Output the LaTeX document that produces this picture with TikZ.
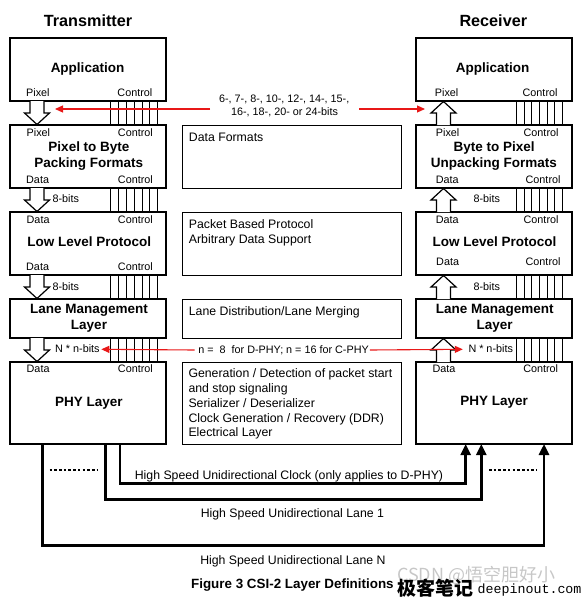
\documentclass[tikz,border=0pt]{standalone}
\usepackage{fontspec}
\setmainfont{Liberation Sans}
\newfontfamily\cjkfont{Noto Sans CJK SC}
\newfontfamily\wmmono{Liberation Mono}
\usetikzlibrary{arrows.meta}
\definecolor{redarrow}{RGB}{232,24,24}
\newcommand\blkdown[3]{%
  \draw[line width=1.2pt,fill=white,line join=miter]
    (#1-7,#2) -- (#1-7,#3-11.5) -- (#1-12.5,#3-11.5) -- (#1,#3) -- (#1+12.5,#3-11.5) -- (#1+7,#3-11.5) -- (#1+7,#2);}
\newcommand\blkup[3]{%
  \draw[line width=1.2pt,fill=white,line join=miter]
    (#1-7,#3) -- (#1-7,#2+11.5) -- (#1-12.5,#2+11.5) -- (#1,#2) -- (#1+12.5,#2+11.5) -- (#1+7,#2+11.5) -- (#1+7,#3);}
\begin{document}
\begin{tikzpicture}[x=1pt,y=-1pt,
  box/.style={draw,line width=1.3pt,inner sep=0,minimum width=156pt},
  mbox/.style={draw,line width=1pt,inner sep=0,minimum width=219pt},
  sm/.style={font=\fontsize{10.8}{13}\selectfont,inner sep=0,text height=0.716em,text depth=0pt},
  bl/.style={font=\bfseries\fontsize{13.5}{16}\selectfont,inner sep=0,text height=0.716em,text depth=0pt},
  ds/.style={font=\fontsize{12.3}{14.8}\selectfont,inner sep=0,text height=0.716em,text depth=0pt},
  ttl/.style={font=\bfseries\fontsize{16.2}{19}\selectfont,inner sep=0,text height=0.716em,text depth=0pt},
  ctl/.style={line width=0.8pt},
  redarr/.style={draw=redarrow,line width=1.1pt,-{Triangle[length=8pt,width=7pt]}},
  bus/.style={line width=2.6pt,line join=miter,-{Triangle[length=11pt,width=10pt]}},
  dsh/.style={line width=1.3pt,dash pattern=on 2.6pt off 2.1pt}
]
\useasboundingbox (0,0) rectangle (582,597);

% titles
\node[ttl] (ttx) at (88,22.7) {Transmitter};
\node[ttl] (trx) at (493.3,22.7) {Receiver};

% transmitter boxes
\node[box,minimum height=63pt] (tapp) at (88,69.5) {};
\node[box,minimum height=63pt] (tp2b) at (88,156.5) {};
\node[box,minimum height=63pt] (tllp) at (88,243.5) {};
\node[box,minimum height=39pt] (tlml) at (88,318.5) {};
\node[box,minimum height=82pt] (tphy) at (88,403) {};
% receiver boxes
\node[box,minimum height=63pt] (rapp) at (494,69.5) {};
\node[box,minimum height=63pt] (rb2p) at (494,156.5) {};
\node[box,minimum height=63pt] (rllp) at (494,243.5) {};
\node[box,minimum height=39pt] (rlml) at (494,318.5) {};
\node[box,minimum height=82pt] (rphy) at (494,403) {};
% middle boxes
\node[mbox,minimum height=63pt] (mdf) at (291.5,156.5) {};
\node[mbox,minimum height=63pt] (mpb) at (291.5,243.5) {};
\node[mbox,minimum height=39pt] (mld) at (291.5,318.5) {};
\node[mbox,minimum height=82pt] (mph) at (291.5,403) {};

% control line bundles
\foreach \u/\l in {tapp/tp2b,tp2b/tllp,tllp/tlml,tlml/tphy}
  \foreach \i in {0,...,6}
    \draw[ctl] ([xshift=101.5pt+7.8pt*\i]\u.south west) -- ([xshift=101.5pt+7.8pt*\i]\l.north west);
\foreach \u/\l in {rapp/rb2p,rb2p/rllp,rllp/rlml,rlml/rphy}
  \foreach \i in {0,...,6}
    \draw[ctl] ([xshift=101pt+7.7pt*\i]\u.south west) -- ([xshift=101pt+7.7pt*\i]\l.north west);

% block arrows
\blkdown{37}{101}{124.5}
\blkdown{37}{188}{211.5}
\blkdown{37}{275}{298.5}
\blkdown{37}{338}{361.5}
\blkup{443.5}{101.5}{125}
\blkup{443.5}{188.5}{212}
\blkup{443.5}{275.5}{299}
\blkup{443.5}{338.5}{362}

% transmitter labels
\node[bl] (tappL) at (87.5,69.3) {Application};
\node[sm,anchor=west] (tappPx) at (26,93) {Pixel};
\node[sm,anchor=east] (tappCt) at (152.5,93) {Control};
\node[sm,anchor=west] (tp2bPx) at (26.5,133.3) {Pixel};
\node[sm,anchor=east] (tp2bCt) at (153,133.3) {Control};
\node[bl] (tp2bL1) at (89,148.3) {Pixel to Byte};
\node[bl] (tp2bL2) at (88.7,164.3) {Packing Formats};
\node[sm,anchor=west] (tp2bDt) at (26,180) {Data};
\node[sm,anchor=east] (tp2bCb) at (153,180) {Control};
\node[sm,anchor=west] (tllpDt) at (26.5,220) {Data};
\node[sm,anchor=east] (tllpCt) at (153,220) {Control};
\node[bl] (tllpL) at (89.3,243.3) {Low Level Protocol};
\node[sm,anchor=west] (tllpDb) at (26,267) {Data};
\node[sm,anchor=east] (tllpCb) at (153,267) {Control};
\node[bl] (tlmlL1) at (89,310) {Lane Management};
\node[bl] (tlmlL2) at (89,326) {Layer};
\node[sm,anchor=west] (tphyDt) at (26.5,369) {Data};
\node[sm,anchor=east] (tphyCt) at (153,369) {Control};
\node[bl] (tphyL) at (89,402.5) {PHY Layer};

% receiver labels
\node[bl] (rappL) at (492.7,69.3) {Application};
\node[sm,anchor=west] (rappPx) at (434.7,93) {Pixel};
\node[sm,anchor=east] (rappCt) at (557.7,93) {Control};
\node[sm,anchor=west] (rb2pPx) at (435.7,133.3) {Pixel};
\node[sm,anchor=east] (rb2pCt) at (558.7,133.3) {Control};
\node[bl] (rb2pL1) at (494.2,148.3) {Byte to Pixel};
\node[bl] (rb2pL2) at (493.8,164.3) {Unpacking Formats};
\node[sm,anchor=west] (rb2pDt) at (435.7,180) {Data};
\node[sm,anchor=east] (rb2pCb) at (560.7,180) {Control};
\node[sm,anchor=west] (rllpDt) at (435.7,220) {Data};
\node[sm,anchor=east] (rllpCt) at (558.7,220) {Control};
\node[bl] (rllpL) at (494.5,243.3) {Low Level Protocol};
\node[sm,anchor=west] (rllpDb) at (436,261.7) {Data};
\node[sm,anchor=east] (rllpCb) at (560.7,261.7) {Control};
\node[bl] (rlmlL1) at (494.7,310) {Lane Management};
\node[bl] (rlmlL2) at (494.7,326) {Layer};
\node[sm,anchor=west] (rphyDt) at (432.3,369.3) {Data};
\node[sm,anchor=east] (rphyCt) at (558.3,369.3) {Control};
\node[bl] (rphyL) at (494.2,402.3) {PHY Layer};

% bit width labels
\node[sm,anchor=west] (t8a) at (52.3,198.5) {8-bits};
\node[sm,anchor=west] (t8b) at (52.3,287.3) {8-bits};
\node[sm,anchor=west] (r8a) at (473.3,199) {8-bits};
\node[sm,anchor=west] (r8b) at (473.3,287.3) {8-bits};
\node[sm,anchor=west] (tNn) at (55,349.3) {N * n-bits};
\node[sm,anchor=west] (rNn) at (468.3,349.3) {N * n-bits};

% middle descriptions
\node[ds,anchor=west] (mdf1) at (188.7,137.7) {Data Formats};
\node[ds,anchor=west] (mpb1) at (188.7,225) {Packet Based Protocol};
\node[ds,anchor=west] (mpb2) at (188.7,240) {Arbitrary Data Support};
\node[ds,anchor=west] (mld1) at (188.7,311.7) {Lane Distribution/Lane Merging};
\node[ds,anchor=west] (mph1) at (188.3,374.3) {Generation / Detection of packet start};
\node[ds,anchor=west] (mph2) at (188.3,389.2) {and stop signaling};
\node[ds,anchor=west] (mph3) at (188.3,404) {Serializer / Deserializer};
\node[ds,anchor=west] (mph4) at (188.3,418.7) {Clock Generation / Recovery (DDR)};
\node[ds,anchor=west] (mph5) at (188.3,433.3) {Electrical Layer};

% pixel formats note with red arrows
\node[sm] (fmt1) at (284.2,99.3) {6-, 7-, 8-, 10-, 12-, 14-, 15-,};
\node[sm] (fmt2) at (284.5,112.3) {16-, 18-, 20- or 24-bits};
\coordinate (fmtLs) at (210,109);
\coordinate (fmtLe) at (55,109);
\coordinate (fmtRs) at (359,109);
\coordinate (fmtRe) at (425,109);
\draw[redarr] (fmtLs) -- (fmtLe);
\draw[redarr] (fmtRs) -- (fmtRe);

\node[sm] (nbits) at (283.6,350) {n =\ \ 8\ \ for D-PHY; n = 16 for C-PHY};
\draw[redarr] ([xshift=-3.5pt]nbits.west) -- ([xshift=1.5pt]tNn.east);
\draw[redarr] ([xshift=1pt]nbits.east) -- ([xshift=-5.5pt]rNn.west);

% high speed links
\coordinate (ck0) at (120.1,444);
\coordinate (ck1) at (465.7,444);
\coordinate (la0) at (105.2,444);
\coordinate (la1) at (481.3,444);
\coordinate (ln0) at (42.2,444);
\coordinate (ln1) at (544,444);
\draw[bus] (ck0) -- ++(0,39.5) -| (ck1);
\draw[bus] (la0) -- ++(0,55.3) -| (la1);
\draw[bus] (ln0) -- ++(0,101.7) -| (ln1);
\coordinate (dl0) at (49.6,470);
\coordinate (dl1) at (97.8,470);
\coordinate (dr0) at (489,470);
\coordinate (dr1) at (537,470);
\draw[dsh] (dl0) -- (dl1);
\draw[dsh] (dr0) -- (dr1);

\node[ds] (ckL) at (289,476) {High Speed Unidirectional Clock (only applies to D-PHY)};
\node[ds] (la1L) at (292.4,514) {High Speed Unidirectional Lane 1};
\node[ds] (lnNL) at (292.9,561) {High Speed Unidirectional Lane N};
\node[font=\bfseries\fontsize{13.4}{16}\selectfont,inner sep=0,text height=0.716em,text depth=0pt] (cap) at (292.4,585) {Figure 3 CSI-2 Layer Definitions};

% watermarks
\node[font=\cjkfont\fontsize{18}{20}\selectfont,text=black!22,anchor=west,inner sep=0] (wm1) at (397,575) {CSDN @悟空胆好小};
\node[font=\cjkfont\bfseries\fontsize{19}{20}\selectfont,anchor=west,inner sep=0] (wm2) at (397,588) {极客笔记};
\node[font=\wmmono\fontsize{13.3}{15}\selectfont,anchor=west,inner sep=0] (wm3) at (477.5,590) {deepinout.com};
\end{tikzpicture}
\end{document}
